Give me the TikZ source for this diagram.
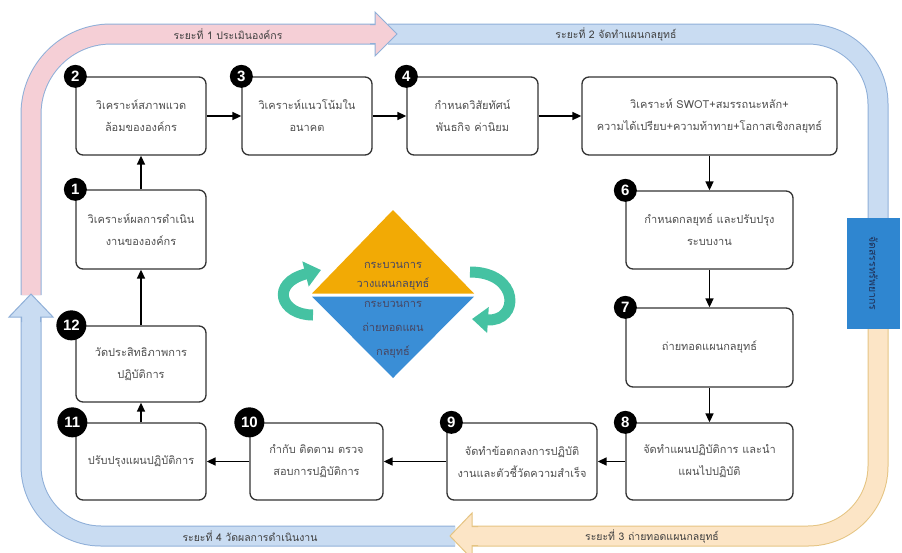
\documentclass[tikz,border=0pt]{standalone}
\usepackage{fontspec}
\newfontfamily\thaifont[Script=Thai]{Loma}
\newfontfamily\numfont{Liberation Sans}
\usetikzlibrary{arrows.meta}
\definecolor{boxline}{HTML}{333333}
\definecolor{boxtext}{HTML}{505050}
\definecolor{pinkband}{HTML}{F5CFD6}
\definecolor{blueband}{HTML}{C9DCF2}
\definecolor{orangeband}{HTML}{FCE5C6}
\definecolor{bandedge}{HTML}{8FAFD8}
\definecolor{orangeedge}{HTML}{E5C482}
\definecolor{tealarrow}{HTML}{45C2A2}
\definecolor{triorange}{HTML}{F2AA05}
\definecolor{triblue}{HTML}{3A8ED6}
\definecolor{allocblue}{HTML}{2F86D0}
\definecolor{tritext}{HTML}{474763}
\definecolor{alloctext}{HTML}{1F2F55}
\definecolor{labeltext}{HTML}{404040}
\newcommand\mkbox[6]{\node[box,minimum width={#4-#2},minimum height={#5-#3}] (#1) at ({(#2+#4)/2},{(#3+#5)/2}) {#6};}
\begin{document}
\begin{tikzpicture}[x=1pt,y=-1pt,
 box/.style={draw=boxline,line width=1.3pt,rounded corners=7pt,fill=white,text=boxtext,align=center,inner sep=0pt,font=\thaifont\fontsize{11}{22}\selectfont},
 badge/.style={circle,fill=black,text=white,inner sep=0pt,minimum size=23pt,font=\numfont\bfseries\fontsize{15}{15}\selectfont},
 badgebig/.style={badge,minimum size=30pt},
 flow/.style={line width=1.6pt,draw=black,-{Triangle[length=9pt,width=8pt]}},
 bandlabel/.style={text=labeltext,font=\thaifont\fontsize{10.5}{12}\selectfont,inner sep=0pt},
 tritxt/.style={text=tritext,align=center,inner sep=0pt},
 turn/.style={line width=11pt,draw=tealarrow,-{Triangle[length=16pt,width=25pt]}},
 bandout/.style={line width=21pt,rounded corners=#1},
 bandin/.style={line width=19pt,rounded corners=#1},
]
\useasboundingbox (0,0) rectangle (902,552);
\clip (0,0) rectangle (902,552);
% stage 2 band (blue)
\draw[bandout=70pt,draw=bandedge] (388,34) -- (878,34) -- (878,230);
\draw[bandin=70pt,draw=blueband] (388,34) -- (878,34) -- (878,230);
% stage 1 band (pink)
\draw[bandout=80pt,draw=bandedge] (31,295) -- (31,34) -- (378,34);
\draw[bandin=80pt,draw=pinkband] (31,295) -- (31,34) -- (378,34);
\filldraw[fill=pinkband,draw=bandedge,line width=1pt] (370,24.5) -- (375,24.5) -- (375,12) -- (397,34) -- (375,56) -- (375,43.5) -- (370,43.5);
% stage 4 band (blue)
\draw[bandout=70pt,draw=bandedge] (455,536) -- (31,536) -- (31,312);
\draw[bandin=70pt,draw=blueband] (455,536) -- (31,536) -- (31,312);
\filldraw[fill=blueband,draw=bandedge,line width=1pt] (21.5,322) -- (21.5,317) -- (9,317) -- (31,294) -- (53,317) -- (40.5,317) -- (40.5,322);
% stage 3 band (orange)
\draw[bandout=70pt,draw=orangeedge] (878,320) -- (878,536) -- (470,536);
\draw[bandin=70pt,draw=orangeband] (878,320) -- (878,536) -- (470,536);
\filldraw[fill=orangeband,draw=orangeedge,line width=1pt] (478,526.5) -- (472,526.5) -- (472,513) -- (450,536) -- (472,559) -- (472,545.5) -- (478,545.5);
% allocation box
\node[fill=allocblue,minimum width=111,minimum height=53,rotate=-90,inner sep=0pt,text=alloctext,font=\thaifont\fontsize{10.5}{12}\selectfont] (alloc) at (873.5,273.5) {จัดสรรทรัพยากร};
% stage labels
\node[bandlabel] (l1) at (228,34) {ระยะที่ 1 ประเมินองค์กร};
\node[bandlabel] (l2) at (616,34) {ระยะที่ 2 จัดทำแผนกลยุทธ์};
\node[bandlabel] (l3) at (652,536) {ระยะที่ 3 ถ่ายทอดแผนกลยุทธ์};
\node[bandlabel] (l4) at (250,536) {ระยะที่ 4 วัดผลการดำเนินงาน};
% boxes
\mkbox{b2}{76}{77}{206}{155}{วิเคราะห์สภาพแวด\\ล้อมขององค์กร}
\mkbox{b3}{242}{77}{372}{155}{วิเคราะห์แนวโน้มใน\\อนาคต}
\mkbox{b4}{407}{77}{538}{155}{กำหนดวิสัยทัศน์\\พันธกิจ ค่านิยม}
\mkbox{b5}{582}{77}{837}{155}{วิเคราะห์ SWOT+สมรรถนะหลัก+\\ความได้เปรียบ+ความท้าทาย+โอกาสเชิงกลยุทธ์}
\mkbox{b1}{76}{190}{206}{269}{วิเคราะห์ผลการดำเนิน\\งานขององค์กร}
\mkbox{b12}{76}{326}{206}{402}{วัดประสิทธิภาพการ\\ปฏิบัติการ}
\mkbox{b11}{76}{423}{206}{500}{ปรับปรุงแผนปฏิบัติการ}
\mkbox{b10}{250}{423}{383}{500}{กำกับ ติดตาม ตรวจ\\สอบการปฏิบัติการ}
\mkbox{b9}{447}{423}{597}{500}{จัดทำข้อตกลงการปฏิบัติ\\งานและตัวชี้วัดความสำเร็จ}
\mkbox{b8}{626}{423}{793}{500}{จัดทำแผนปฏิบัติการ และนำ\\แผนไปปฏิบัติ}
\mkbox{b6}{626}{191}{793}{269}{กำหนดกลยุทธ์ และปรับปรุง\\ระบบงาน}
\mkbox{b7}{626}{308}{793}{387}{ถ่ายทอดแผนกลยุทธ์}
% connectors
\draw[flow] (b1) -- (b2);
\draw[flow] (b2) -- (b3);
\draw[flow] (b3) -- (b4);
\draw[flow] (b4) -- (b5);
\draw[flow] (b5) -- (b6);
\draw[flow] (b6) -- (b7);
\draw[flow] (b7) -- (b8);
\draw[flow] (b8) -- (b9);
\draw[flow] (b9) -- (b10);
\draw[flow] (b10) -- (b11);
\draw[flow] (b11) -- (b12);
\draw[flow] (b12) -- (b1);
% badges
\node[badge] (n1) at (b1.north west) {1};
\node[badge] (n2) at (b2.north west) {2};
\node[badge] (n3) at (b3.north west) {3};
\node[badge] (n4) at (b4.north west) {4};
\node[badge] (n6) at (b6.north west) {6};
\node[badge] (n7) at (b7.north west) {7};
\node[badge] (n8) at (b8.north west) {8};
\node[badge] (n9) at ([xshift=5pt]b9.north west) {9};
\node[badgebig] (n10) at (b10.north west) {10};
\node[badgebig] (n11) at ([xshift=-3pt]b11.north west) {11};
\node[badgebig] (n12) at ([xshift=-4pt]b12.north west) {12};
% centre diamond
\fill[triorange] (312,293.5) -- (393,210) -- (474,293.5) -- cycle;
\fill[triblue] (312,296.5) -- (474,296.5) -- (393,378) -- cycle;
\node[tritxt,font=\thaifont\fontsize{11}{19}\selectfont] (t1) at (393,276) {กระบวนการ\\วางแผนกลยุทธ์};
\node[tritxt,font=\thaifont\fontsize{11}{24}\selectfont] (t2) at (393,330) {กระบวนการ\\ถ่ายทอดแผน\\กลยุทธ์};
% turning arrows
\coordinate (la) at (313,315);
\coordinate (lb) at (321,270);
\coordinate (ra) at (470,272);
\coordinate (rb) at (472,319);
\draw[turn] (la) .. controls (280,315) and (270,283) .. (lb);
\draw[turn] (ra) .. controls (520,272) and (520,322) .. (rb);
\end{tikzpicture}
\end{document}
